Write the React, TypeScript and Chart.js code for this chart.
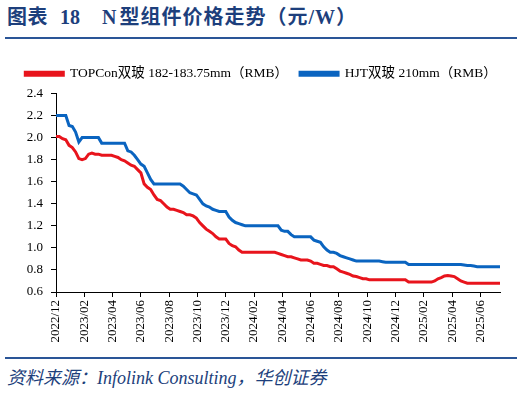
import React, { useEffect, useRef } from "react";
import { Chart, registerables } from "chart.js";

Chart.register(...registerables);

// Weekly observations starting 2022/12 (week index 0)
const topconPrices: number[] = [
  2.01, 2.01, 1.99, 1.98, 1.93, 1.91, 1.87, 1.81, 1.80, 1.81,
  1.85, 1.86, 1.85, 1.85, 1.84, 1.84, 1.84, 1.84, 1.83, 1.82,
  1.80, 1.79, 1.77, 1.75, 1.74, 1.71, 1.68, 1.58, 1.55, 1.53,
  1.48, 1.44, 1.43, 1.40, 1.37, 1.35, 1.35, 1.34, 1.33, 1.32,
  1.30, 1.30, 1.29, 1.27, 1.23, 1.20, 1.17, 1.15, 1.13, 1.10,
  1.08, 1.08, 1.08, 1.04, 1.02, 1.01, 0.98, 0.96, 0.96, 0.96,
  0.96, 0.96, 0.96, 0.96, 0.96, 0.96, 0.96, 0.96, 0.95, 0.94,
  0.93, 0.92, 0.92, 0.91, 0.90, 0.89, 0.89, 0.89, 0.88, 0.86,
  0.86, 0.85, 0.84, 0.84, 0.83, 0.83, 0.81, 0.79, 0.78, 0.77,
  0.76, 0.745, 0.74, 0.73, 0.72, 0.72, 0.71, 0.71, 0.71, 0.71,
  0.71, 0.71, 0.71, 0.71, 0.71, 0.71, 0.71, 0.71, 0.69, 0.69,
  0.69, 0.69, 0.69, 0.69, 0.69, 0.69, 0.70, 0.72, 0.73, 0.745,
  0.75, 0.745, 0.74, 0.72, 0.70, 0.69, 0.68, 0.68, 0.68, 0.68,
  0.68, 0.68, 0.68, 0.68, 0.68, 0.68, 0.68,
];

const hjtPrices: number[] = [
  2.20, 2.20, 2.20, 2.20, 2.11, 2.10, 2.05, 1.96, 2.00, 2.00,
  2.00, 2.00, 2.00, 2.00, 1.95, 1.95, 1.95, 1.95, 1.95, 1.95,
  1.95, 1.95, 1.88, 1.87, 1.84, 1.80, 1.76, 1.74, 1.68, 1.62,
  1.58, 1.58, 1.58, 1.58, 1.58, 1.58, 1.58, 1.58, 1.58, 1.56,
  1.53, 1.50, 1.49, 1.48, 1.44, 1.40, 1.38, 1.37, 1.35, 1.34,
  1.33, 1.33, 1.33, 1.28, 1.25, 1.23, 1.22, 1.21, 1.20, 1.20,
  1.20, 1.20, 1.20, 1.20, 1.20, 1.20, 1.20, 1.20, 1.20, 1.16,
  1.15, 1.15, 1.12, 1.10, 1.10, 1.10, 1.10, 1.10, 1.10, 1.07,
  1.06, 1.05, 1.01, 0.98, 0.96, 0.96, 0.95, 0.93, 0.92, 0.91,
  0.90, 0.89, 0.88, 0.88, 0.88, 0.88, 0.88, 0.88, 0.88, 0.88,
  0.875, 0.87, 0.87, 0.87, 0.87, 0.87, 0.87, 0.87, 0.85, 0.85,
  0.85, 0.85, 0.85, 0.85, 0.85, 0.85, 0.85, 0.85, 0.85, 0.85,
  0.85, 0.85, 0.85, 0.85, 0.85, 0.845, 0.84, 0.84, 0.835, 0.83,
  0.83, 0.83, 0.83, 0.83, 0.83, 0.83, 0.83,
];

const tickLabels: string[] = [
  "2022/12", "2023/02", "2023/04", "2023/06", "2023/08", "2023/10",
  "2023/12", "2024/02", "2024/04", "2024/06", "2024/08", "2024/10",
  "2024/12", "2025/02", "2025/04", "2025/06",
];

const seriesNames: string[] = [
  "TOPCon双玻 182-183.75mm（RMB）",
  "HJT双玻 210mm（RMB）",
];

const MONTHS_PER_WEEK = 12 / 52;
const SERIF = '"Times New Roman", "Liberation Serif", "Noto Sans CJK SC", serif';
const NAVY = "#1d3f7c";

const legendShift = {
  id: "legendShift",
  afterLayout(chart: any) {
    const lg = chart.legend;
    if (!lg) return;
    lg.left += 11;
    lg.right += 11;
    lg.top -= 3;
    lg.bottom -= 3;
  },
};

export default function App() {
  const canvasRef = useRef<HTMLCanvasElement | null>(null);

  useEffect(() => {
    if (!canvasRef.current) return;
    const toPoints = (arr: number[]) =>
      arr.map((v, i) => ({ x: i * MONTHS_PER_WEEK, y: v }));
    const chart = new Chart(canvasRef.current, {
      type: "line",
      plugins: [legendShift],
      data: {
        datasets: [
          {
            label: seriesNames[0],
            data: toPoints(topconPrices),
            borderColor: "#e8141c",
            backgroundColor: "#e8141c",
            borderWidth: 3,
            pointRadius: 0,
            tension: 0,
          },
          {
            label: seriesNames[1],
            data: toPoints(hjtPrices),
            borderColor: "#0a64c0",
            backgroundColor: "#0a64c0",
            borderWidth: 3,
            pointRadius: 0,
            tension: 0,
          },
        ],
      },
      options: {
        animation: false,
        responsive: false,
        maintainAspectRatio: false,
        layout: { padding: { left: 0, right: 24, top: 0, bottom: 0 } },
        plugins: {
          tooltip: { enabled: false },
          legend: {
            display: true,
            position: "top",
            labels: {
              boxWidth: 38,
              boxHeight: 3,
              padding: 12,
              color: "#000",
              font: { family: SERIF, size: 13.5 },
            },
          },
        },
        scales: {
          x: {
            type: "linear",
            min: 0,
            max: (topconPrices.length - 1) * MONTHS_PER_WEEK,
            afterBuildTicks: (scale: any) => {
              scale.ticks = tickLabels.map((_, i) => ({ value: i * 2 }));
            },
            afterFit: (scale: any) => {
              scale.height = 63;
            },
            ticks: {
              autoSkip: false,
              minRotation: 90,
              maxRotation: 90,
              padding: 3,
              color: "#000",
              font: { family: SERIF, size: 13 },
              callback: (value: any) => tickLabels[Math.round(Number(value) / 2)] ?? "",
            },
            grid: {
              display: true,
              drawOnChartArea: false,
              drawTicks: true,
              tickLength: 5,
              color: "#000",
            },
            border: { display: true, color: "#000", width: 1 },
          },
          y: {
            type: "linear",
            min: 0.6,
            max: 2.4,
            afterFit: (scale: any) => {
              scale.width = 56;
            },
            ticks: {
              stepSize: 0.2,
              padding: 8,
              color: "#000",
              font: { family: SERIF, size: 13 },
              callback: (value: any) => Number(value).toFixed(1),
            },
            grid: {
              display: true,
              drawOnChartArea: false,
              drawTicks: true,
              tickLength: 5,
              color: "#000",
            },
            border: { display: true, color: "#000", width: 1 },
          },
        },
      },
    });
    return () => chart.destroy();
  }, []);

  const titleFont = '"Times New Roman", "Liberation Serif", "Noto Sans CJK SC", serif';

  return (
    <div
      style={{
        position: "fixed",
        left: 0,
        top: 0,
        width: 524,
        height: 394,
        background: "#fff",
        overflow: "hidden",
      }}
    >
      <div
        style={{
          position: "absolute",
          left: 7,
          top: 4,
          color: NAVY,
          fontWeight: 700,
          fontSize: 20,
          fontFamily: titleFont,
          whiteSpace: "pre",
          lineHeight: "26px",
        }}
      >
        <span style={{ letterSpacing: 0.5 }}>图表</span>
        <span style={{ marginLeft: 12 }}>18</span>
        <span style={{ marginLeft: 22 }}>N</span>
        <span style={{ marginLeft: 3, letterSpacing: 1 }}>型组件价格走势（元/W）</span>
      </div>
      <div
        style={{
          position: "absolute",
          left: 5,
          top: 37,
          width: 512,
          height: 2,
          background: "#2a5597",
        }}
      />
      <canvas
        ref={canvasRef}
        width={524}
        height={297}
        style={{ position: "absolute", left: 0, top: 58, width: 524, height: 297 }}
      />
      <div
        style={{
          position: "absolute",
          left: 5,
          top: 357,
          width: 512,
          height: 2,
          background: "#2a5597",
        }}
      />
      <div
        style={{
          position: "absolute",
          left: 7,
          top: 366,
          color: NAVY,
          fontStyle: "italic",
          fontSize: 18,
          fontFamily: titleFont,
          whiteSpace: "pre",
          lineHeight: "24px",
        }}
      >
        资料来源：Infolink Consulting，华创证券
      </div>
    </div>
  );
}
